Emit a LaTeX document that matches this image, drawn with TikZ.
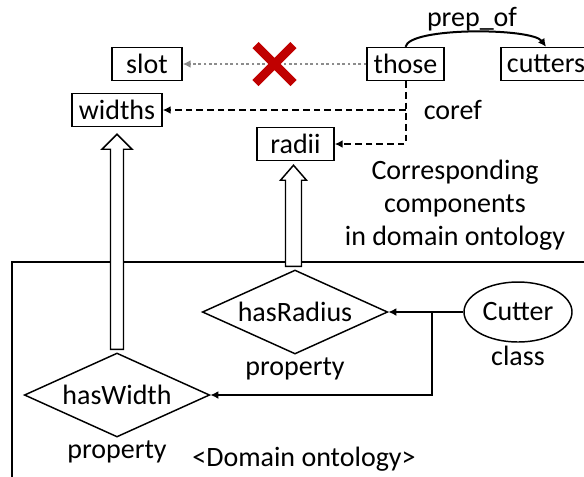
\documentclass[tikz,border=0pt]{standalone}
\usepackage{fontspec}
\setmainfont{Carlito}
\usetikzlibrary{shapes.geometric,shapes.misc,calc,arrows.meta}
\definecolor{crossred}{RGB}{192,0,0}
\definecolor{linkgray}{RGB}{140,140,140}
\tikzset{
  word/.style={draw, line width=1.1pt, minimum height=24.75pt, inner sep=0pt},
  prop/.style={draw, diamond, line width=1.1pt, aspect=2.2, minimum width=139pt, minimum height=63pt, inner sep=0pt},
  cls/.style={draw, ellipse, line width=1.1pt, minimum width=81pt, minimum height=45pt, inner sep=0pt},
  under/.style={label={[inner sep=0pt, label distance=2pt]below:#1}},
  rel/.style={line width=1.5pt},
  corefline/.style={rel, dash pattern=on 5pt off 3pt},
  nolink/.style={draw=linkgray, line width=2.1pt, dash pattern=on 2pt off 2pt},
}
% hollow up arrow: base, tip, half shaft, half head
\newcommand{\hollowarrow}[4]{%
  \draw[line width=1.1pt, fill=white] ($(#1)+(-#3,0)$) -- ($(#2)+(-#3,15)$) -- ($(#2)+(-#4,15)$) -- (#2)
    -- ($(#2)+(#4,15)$) -- ($(#2)+(#3,15)$) -- ($(#1)+(#3,0)$) -- cycle;}
\begin{document}
\begin{tikzpicture}[x=0.75pt, y=-0.75pt, >={Latex[length=6pt,width=6pt]}]
\useasboundingbox (0,0) rectangle (584,476);
\fontsize{21}{24.75}\selectfont

%words in the text
\node[word, minimum width=52.5pt] (slot) at (147,64) {slot};
\node[word, minimum width=57.75pt] (those) at (405.5,64) {those};
\node[word, minimum width=67.5pt] (cutters) at (546,64) {cutters};
\node[word, minimum width=67.5pt] (widths) at (117,110) {widths};
\node[word, minimum width=57.75pt] (radii) at (295.5,144) {radii};

\node[align=center] (corr) at (455,205) {Corresponding\\components\\in domain ontology};

%domain ontology
\draw[line width=1.1pt] (12,262) rectangle (600,490);
\node[prop, under=property] (hasRadius) at (295,312) {hasRadius};
\node[prop, under=property] (hasWidth) at (117,395) {hasWidth};
\node[cls, under=class] (cutter) at (518,312) {Cutter};
\node (domain) at (304,459) {<Domain ontology>};

\coordinate (split) at ($(cutter.west)+(-31,0)$);
\draw[rel, ->] (cutter.west) -- (hasRadius.east);
\draw[rel, ->] (split) |- (hasWidth.east);

%correspondence
\coordinate (wtip) at ($(widths.south)+(0,7)$);
\coordinate (wbase) at ($(wtip |- hasWidth.north)+(0,-3)$);
\hollowarrow{wbase}{wtip}{6.5}{15}
\coordinate (rtip) at ($(radii.south)+(-2,4)$);
\coordinate (rbase) at ($(rtip |- hasRadius.north)+(0,-3)$);
\hollowarrow{rbase}{rtip}{8}{13}

%relations
\draw[nolink, ->] (those.west) -- node[cross out, solid, draw=crossred, line width=6.5pt, minimum size=22pt, inner sep=0pt] (cross) {} (slot.east);
\draw[rel, ->] (those.north) .. controls +(4,-20) and +(-14,-19) .. (cutters.north) node[pos=0.5, above=0pt, inner sep=0pt] (prep) {prep\_of};
\draw[corefline, ->] (those.south) |- (radii.east);
\draw[corefline, ->] (those.south |- widths.east) -- (widths.east) node[pos=0, right=6pt] (coref) {coref};
\end{tikzpicture}
\end{document}
